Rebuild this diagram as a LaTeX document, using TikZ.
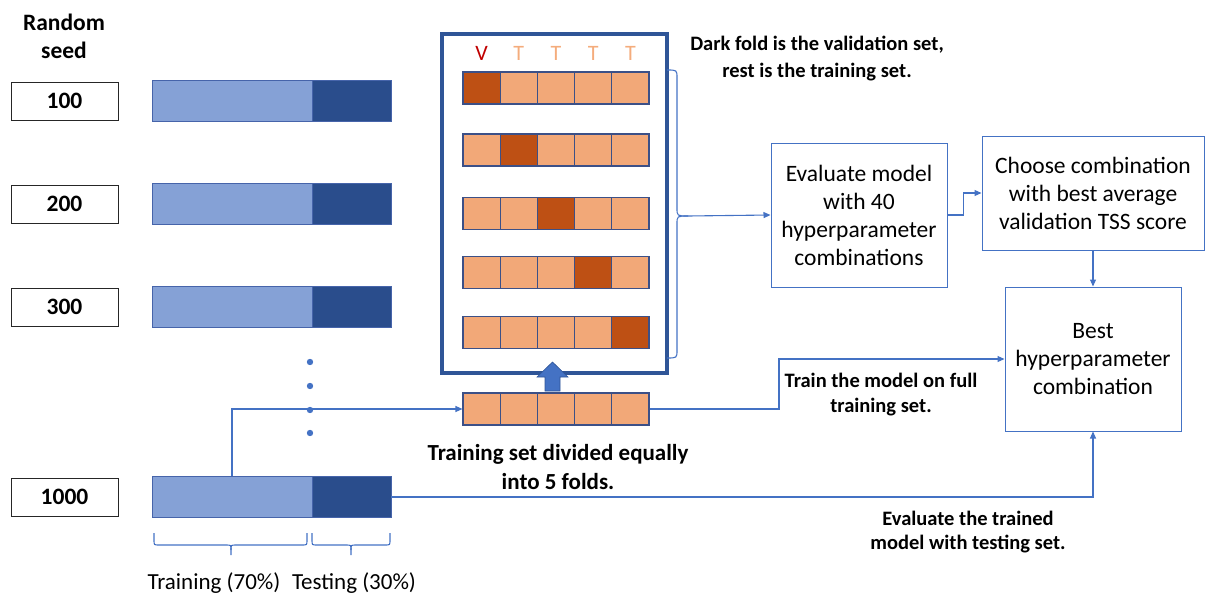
\documentclass[tikz,border=0pt]{standalone}
\usepackage{fontspec}
\setmainfont{Carlito}
\usetikzlibrary{arrows.meta}

\definecolor{barlight}{RGB}{133,161,214}
\definecolor{bardark}{RGB}{42,77,140}
\definecolor{barline}{RGB}{70,100,170}
\definecolor{foldlight}{RGB}{242,168,120}
\definecolor{folddark}{RGB}{190,80,20}
\definecolor{cellline}{RGB}{60,80,135}
\definecolor{frameblue}{RGB}{47,85,151}
\definecolor{linkblue}{RGB}{68,114,196}
\definecolor{vred}{RGB}{192,0,0}
\definecolor{tlight}{RGB}{244,172,124}

\tikzset{
  seedbox/.style={draw=black!85, line width=0.9pt, minimum width=107pt, minimum height=38pt,
    inner sep=0pt, font=\bfseries\fontsize{23.5}{26}\selectfont},
  trainbar/.style={draw=barline, line width=0.7pt, fill=barlight, minimum width=160pt,
    minimum height=41pt, inner sep=0pt},
  testbar/.style={draw=barline, line width=0.7pt, fill=bardark, minimum width=79pt,
    minimum height=41pt, inner sep=0pt},
  cell/.style={draw=cellline, line width=1.1pt, minimum width=37.2pt, minimum height=32pt,
    inner sep=0pt},
  flowbox/.style={draw=linkblue, line width=1pt, align=center, inner sep=0pt,
    font=\fontsize{23.5}{28}\selectfont},
  note/.style={align=center, inner sep=0pt, font=\bfseries\fontsize{20.5}{25}\selectfont},
  conn/.style={draw=linkblue, line width=1.1pt, -{Triangle[length=7pt,width=6pt]}},
  bracket/.style={draw=linkblue, line width=1.1pt},
  letter/.style={font=\fontsize{22}{24}\selectfont, inner sep=0pt},
}

\begin{document}
\begin{tikzpicture}[x=1pt,y=-1pt]
\useasboundingbox (0,0) rectangle (1205,602);

% seed column heading
\node[align=center, inner sep=0pt, font=\bfseries\fontsize{23.5}{28}\selectfont] (seedhead) at (64,36) {Random\\seed};

% seeds and their train/test splits
\foreach \i/\s/\y in {1/100/101, 2/200/204, 3/300/307, 4/1000/497}{
  \node[seedbox] (seed\i) at (64.5,\y) {\s};
  \node[trainbar] (tr\i) at (232,\y) {};
  \node[testbar] (te\i) at (351.5,\y) {};
}

% vertical ellipsis between seeds
\foreach \y in {362,386,410,433}{
  \fill[linkblue] (310,\y) circle (3.2pt);
}

% braces under the last split
\draw[bracket] (154,533) -- (154,540) .. controls (154,545) .. (159,545) -- (226,545)
  .. controls (231,545) .. (231,550) -- (231,555);
\draw[bracket] (231,550) .. controls (231,545) .. (236,545) -- (302,545)
  .. controls (307,545) .. (307,540) -- (307,533);
\draw[bracket] (312,533) -- (312,540) .. controls (312,545) .. (317,545) -- (346,545)
  .. controls (351,545) .. (351,550) -- (351,555);
\draw[bracket] (351,550) .. controls (351,545) .. (356,545) -- (385,545)
  .. controls (390,545) .. (390,540) -- (390,533);
\node[inner sep=0pt, font=\fontsize{23}{26}\selectfont] (trlabel) at (214,583) {Training (70\%)};
\node[inner sep=0pt, font=\fontsize{23}{26}\selectfont] (telabel) at (354,583) {Testing (30\%)};

% cross-validation frame
\node[draw=frameblue, line width=3.5pt, minimum width=225pt, minimum height=339pt, inner sep=0pt]
  (frame) at (554.5,203.5) {};

% fold role letters
\node[letter, text=vred] (lv) at (481.6,53) {V};
\foreach \c in {2,...,5}{
  \node[letter, text=tlight] (lt\c) at ({463+37.2*(\c-0.5)},53) {T};
}

% five folds per row, the dark one is the validation fold
\foreach \r/\y in {1/88, 2/150, 3/213.5, 4/272.5, 5/332.5, 6/409}{
  \foreach \c in {1,...,5}{
    \ifnum\r=\c \def\cellfill{folddark}\else\def\cellfill{foldlight}\fi
    \node[cell, fill=\cellfill] (f\r-\c) at ({463+37.2*(\c-0.5)},\y) {};
  }
}

% block arrow from the training folds into the frame
\fill[linkblue, draw=frameblue, line width=0.6pt]
  (545,391) -- (560,391) -- (560,377) -- (568,377) -- (552.5,362) -- (537,377) -- (545,377) -- cycle;

% bracket gathering all rows
\coordinate (bracetip) at (688,216);
\draw[bracket] (667,70) .. controls (677,70) .. (677,78) -- (677,208)
  .. controls (677,216) .. (bracetip);
\draw[bracket] (bracetip) .. controls (677,216) .. (677,224) -- (677,350)
  .. controls (677,358) .. (667,358);

% process boxes
\node[flowbox, minimum width=176pt, minimum height=144pt] (eval) at (859,215)
  {Evaluate model\\with 40\\hyperparameter\\combinations};
\node[flowbox, minimum width=222pt, minimum height=114pt] (choose) at (1093,193)
  {Choose combination\\with best average\\validation TSS score};
\node[flowbox, minimum width=176pt, minimum height=144pt] (best) at (1093,359)
  {Best\\hyperparameter\\combination};

% notes
\node[note, font=\bfseries\fontsize{20.5}{27}\selectfont] (darknote) at (817,59)
  {Dark fold is the validation set,\\rest is the training set.};
\node[note] (trainnote) at (881,395) {Train the model on full\\training set.};
\node[note, font=\bfseries\fontsize{20.5}{24.5}\selectfont] (evalnote) at (968,532)
  {Evaluate the trained\\model with testing set.};
\node[note, font=\bfseries\fontsize{23}{29}\selectfont] (foldnote) at (558,467)
  {Training set divided equally\\into 5 folds.};

% connectors
\coordinate (trainturn) at (779,380);
\draw[conn] (tr4.north) |- (f6-1.west);
\draw[conn] (bracetip) -- (eval.west);
\draw[conn] (eval.east) -- ++(16,0) |- (choose.west);
\draw[conn] (choose.south) -- (best.north);
\draw[conn] (f6-5.east) -| (trainturn) |- (best.west);
\draw[conn] (te4.east) -| (best.south);
\end{tikzpicture}
\end{document}
